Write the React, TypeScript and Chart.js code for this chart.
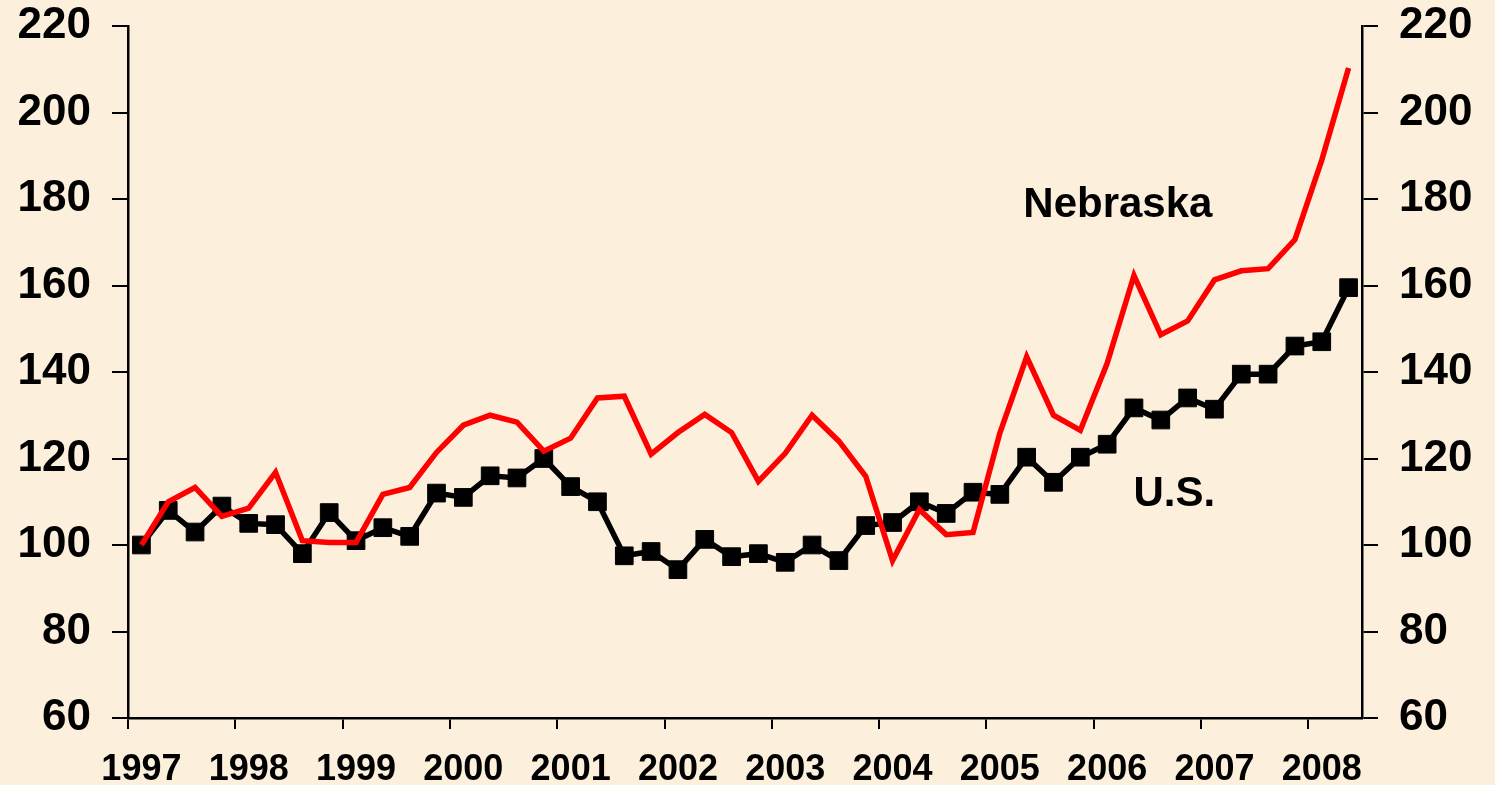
import React, { useEffect, useRef } from 'react';
import { Chart, registerables } from 'chart.js';

Chart.register(...registerables);

// Year tick labels (one per 4 quarterly categories)
const YEARS = ['1997', '1998', '1999', '2000', '2001', '2002', '2003', '2004', '2005', '2006', '2007', '2008'];
const QUARTER_NAMES = ['Q1', 'Q2', 'Q3', 'Q4'];
// Quarterly categories 1997 Q1 .. 2008 Q2
const CATEGORIES = YEARS.flatMap((y) => QUARTER_NAMES.map((q) => `${y} ${q}`)).slice(0, 46);

// Index values (1997 Q1 = 100)
const NEBRASKA = [
  100, 110, 113.3, 106.6, 108.5, 116.8, 101, 100.6, 100.6, 111.7,
  113.3, 121.4, 127.7, 130, 128.4, 121.7, 124.7, 134, 134.4, 121,
  126, 130.2, 126, 114.7, 121.2, 130, 124, 115.9, 96.4, 108.2,
  102.4, 102.9, 125.9, 143.5, 130, 126.5, 142, 162.3, 148.6, 151.8,
  161.3, 163.4, 163.9, 170.6, 189, 210.3,
];
const US = [
  100, 108, 103, 109, 105, 104.7, 98, 107.5, 101, 104,
  102, 112, 111, 116, 115.5, 120, 113.5, 110, 97.5, 98.5,
  94.3, 101.3, 97.3, 98, 96, 100, 96.4, 104.5, 105.2, 110,
  107.3, 112.2, 111.7, 120.3, 114.5, 120.3, 123.3, 131.7, 128.9, 134,
  131.4, 139.5, 139.5, 146, 147, 159.5,
];

const Y_MIN = 60;
const Y_MAX = 220;
const Y_STEP = 20;

// Series name labels placed in data space: [text, category index, value]
const SERIES_LABELS: [string, number, number][] = [
  ['Nebraska', 36.4, 178.5],
  ['U.S.', 38.5, 111.7],
];

const FONT_FAMILY = '"Liberation Sans", Arial, Helvetica, sans-serif';
const BG = '#FCF0DD';

const labelPlugin = {
  id: 'seriesLabels',
  afterDatasetsDraw(chart: any) {
    const { ctx, scales } = chart;
    ctx.save();
    ctx.fillStyle = '#000';
    ctx.font = `bold 42px ${FONT_FAMILY}`;
    ctx.textAlign = 'center';
    ctx.textBaseline = 'middle';
    for (const [text, idx, val] of SERIES_LABELS) {
      ctx.fillText(text, scales.x.getPixelForValue(idx), scales.y.getPixelForValue(val));
    }
    ctx.restore();
  },
};

export default function App() {
  const canvasRef = useRef<HTMLCanvasElement | null>(null);

  useEffect(() => {
    document.body.style.margin = '0';
    document.body.style.background = BG;
    const canvas = canvasRef.current;
    if (!canvas) return;

    const yAxisCommon = {
      type: 'linear' as const,
      min: Y_MIN,
      max: Y_MAX,
      ticks: {
        stepSize: Y_STEP,
        color: '#000',
        padding: 21,
        font: { family: FONT_FAMILY, size: 44, weight: 'bold' as const },
      },
      grid: {
        drawOnChartArea: false,
        drawTicks: true,
        tickLength: 16,
        color: '#000',
        lineWidth: 2,
      },
      border: { display: true, color: '#000', width: 2.5 },
    };

    const chart = new Chart(canvas, {
      type: 'line',
      data: {
        labels: CATEGORIES,
        datasets: [
          {
            label: 'Nebraska',
            data: NEBRASKA,
            borderColor: '#FF0000',
            backgroundColor: '#FF0000',
            borderWidth: 5.5,
            pointRadius: 0,
            pointHoverRadius: 0,
            tension: 0,
            yAxisID: 'y',
          },
          {
            label: 'U.S.',
            data: US,
            borderColor: '#000000',
            backgroundColor: '#000000',
            borderWidth: 5.5,
            pointStyle: 'rect',
            pointRadius: 12.5,
            pointBorderWidth: 1,
            pointBorderColor: '#000000',
            pointBackgroundColor: '#000000',
            tension: 0,
            yAxisID: 'y',
          },
        ],
      },
      options: {
        animation: false,
        responsive: true,
        maintainAspectRatio: false,
        layout: { padding: { top: 26, left: 0, right: 0, bottom: 0 } },
        plugins: {
          legend: { display: false },
          tooltip: { enabled: false },
          title: { display: false },
        },
        scales: {
          x: {
            type: 'category',
            offset: true,
            ticks: {
              autoSkip: false,
              maxRotation: 0,
              minRotation: 0,
              color: '#000',
              padding: 19,
              font: { family: FONT_FAMILY, size: 36, weight: 'bold' },
              callback: (_v: any, i: number) => (i % 4 === 0 ? YEARS[i / 4] : ''),
            },
            grid: {
              offset: true,
              drawOnChartArea: false,
              drawTicks: true,
              tickLength: 11,
              lineWidth: 2,
              color: (c: any) => (typeof c.index === 'number' && c.index % 4 === 0 ? '#000' : 'rgba(0,0,0,0)'),
            },
            border: { display: true, color: '#000', width: 2.5 },
            afterFit: (s: any) => {
              s.height = 67;
              s.paddingLeft = 0;
              s.paddingRight = 0;
            },
          },
          y: {
            ...yAxisCommon,
            position: 'left',
            afterFit: (s: any) => {
              s.width = 128;
              s.paddingTop = 0;
              s.paddingBottom = 0;
            },
          },
          y2: {
            ...yAxisCommon,
            position: 'right',
            afterFit: (s: any) => {
              s.width = 133;
              s.paddingTop = 0;
              s.paddingBottom = 0;
            },
          },
        },
      },
      plugins: [labelPlugin],
    } as any);

    return () => chart.destroy();
  }, []);

  return (
    <div
      style={{
        position: 'fixed',
        left: 0,
        top: 0,
        width: '1495px',
        height: '785px',
        background: BG,
      }}
    >
      <canvas ref={canvasRef} />
    </div>
  );
}
